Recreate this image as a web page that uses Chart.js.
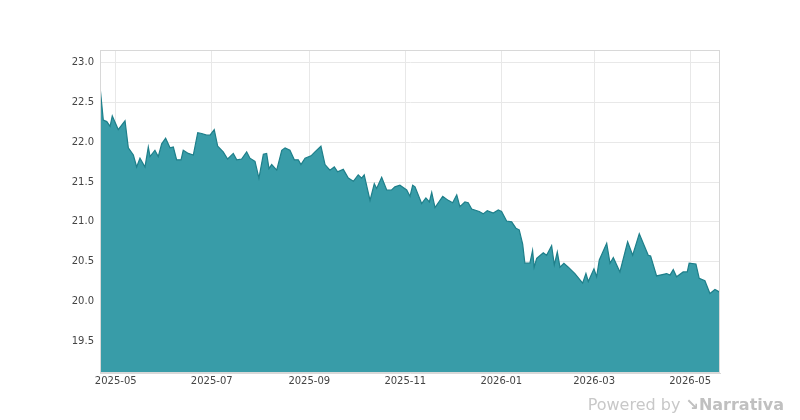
<!DOCTYPE html>
<html>
<head>
<meta charset="utf-8">
<script src="https://cdn.jsdelivr.net/npm/chart.js@4/dist/chart.umd.min.js"></script>
<style>
  html, body { margin: 0; padding: 0; background: #fff; }
  #wrap { position: relative; width: 800px; height: 420px; }
  #brand { position: absolute; right: 16px; bottom: 6px; font: 16px "DejaVu Sans", sans-serif; color: #c8c8c8; }
  #brand b { font-weight: bold; color: #c0c0c0; }
</style>
</head>
<body>
<div id="wrap">
  <canvas id="chart" width="800" height="420"></canvas>
  <div id="brand">Powered by <b>&#x2198;Narrativa</b></div>
</div>
<script>
// days since 2025-04-21
const days = [0,2.1,4.3,6.4,7.8,11.6,15.9,18.0,21.2,23.3,25.4,28.6,30.7,31.8,34.9,37.0,39.2,41.7,44.5,46.6,48.7,51.5,52.9,56.1,59.3,62.1,64.6,67.8,69.9,72.6,74.8,78.3,81.1,84.7,86.9,90.0,93.2,95.3,98.5,101.0,103.8,105.9,107.4,109.1,112.3,115.5,117.6,120.7,123.5,126.0,127.7,130.3,134.1,136.6,140.4,143.0,146.1,148.9,151.0,154.6,157.8,161.0,164.1,166.3,167.9,171.6,174.3,175.8,179.0,182.2,185.3,187.4,190.6,194.9,197.0,198.7,200.2,204.4,207.1,209.3,210.8,212.9,217.8,221.3,224.1,226.7,228.7,231.9,234.0,236.2,241.0,243.5,246.1,249.9,253.1,255.2,258.4,261.6,264.3,266.4,268.6,270.0,273.2,274.9,275.9,277.5,281.7,283.8,287.0,288.7,290.6,292.3,294.8,297.6,301.8,306.7,308.8,310.3,313.9,315.6,317.3,322.0,324.1,326.2,330.4,335.3,338.5,342.7,348.4,349.9,353.7,360.1,362.2,364.3,366.4,370.6,373.2,374.4,378.7,380.8,384.4,387.6,390.8,393.5];
const values = [22.70,22.28,22.26,22.20,22.33,22.16,22.27,21.93,21.84,21.69,21.80,21.69,21.94,21.82,21.90,21.82,21.98,22.05,21.93,21.94,21.78,21.78,21.90,21.86,21.84,22.12,22.11,22.09,22.09,22.16,21.95,21.88,21.79,21.86,21.78,21.79,21.88,21.80,21.76,21.55,21.85,21.86,21.67,21.72,21.65,21.90,21.93,21.90,21.78,21.78,21.72,21.80,21.83,21.88,21.95,21.72,21.65,21.69,21.63,21.66,21.55,21.51,21.59,21.55,21.59,21.27,21.48,21.42,21.56,21.40,21.40,21.44,21.46,21.40,21.32,21.46,21.44,21.23,21.30,21.25,21.37,21.18,21.32,21.27,21.24,21.34,21.19,21.25,21.24,21.16,21.13,21.10,21.14,21.11,21.15,21.13,21.01,21.00,20.92,20.90,20.72,20.48,20.48,20.64,20.43,20.54,20.61,20.58,20.70,20.46,20.62,20.43,20.48,20.43,20.35,20.23,20.35,20.25,20.41,20.31,20.52,20.73,20.48,20.55,20.37,20.75,20.58,20.85,20.58,20.57,20.32,20.35,20.33,20.40,20.31,20.37,20.37,20.48,20.47,20.29,20.26,20.10,20.15,20.12];
const monthTicks = [10, 71, 133, 194, 255, 314, 375];
const monthLabels = ["2025-05", "2025-07", "2025-09", "2025-11", "2026-01", "2026-03", "2026-05"];
const yTicks = [19.5, 20.0, 20.5, 21.0, 21.5, 22.0, 22.5, 23.0];

const points = days.map((d, i) => ({ x: d, y: values[i] }));

new Chart(document.getElementById("chart"), {
  type: "line",
  data: {
    datasets: [{
      data: points,
      borderColor: "#1e7f8a",
      backgroundColor: "#389ca8",
      borderWidth: 1.2,
      pointRadius: 0,
      fill: "start",
      tension: 0
    }]
  },
  options: {
    responsive: false,
    animation: false,
    layout: { padding: { top: 50, right: 80, left: 0, bottom: 0 } },
    plugins: { legend: { display: false }, tooltip: { enabled: false } },
    scales: {
      x: {
        type: "linear",
        min: 0,
        max: 394,
        afterBuildTicks: (axis) => { axis.ticks = monthTicks.map(v => ({ value: v })); },
        afterFit: (axis) => { axis.height = 47; },
        ticks: {
          callback: (v) => monthLabels[monthTicks.indexOf(v)],
          color: "#444",
          font: { family: "DejaVu Sans", size: 10 },
          maxRotation: 0,
          padding: 2
        },
        grid: { color: "#e8e8e8", drawTicks: false },
        border: { color: "#d8d8d8" }
      },
      y: {
        min: 19.1,
        max: 23.16,
        afterBuildTicks: (axis) => { axis.ticks = yTicks.map(v => ({ value: v })); },
        afterFit: (axis) => { axis.width = 100; },
        ticks: {
          callback: (v) => v.toFixed(1),
          color: "#444",
          font: { family: "DejaVu Sans", size: 10 },
          padding: 6
        },
        grid: { color: "#e8e8e8", drawTicks: false },
        border: { color: "#d8d8d8" }
      }
    }
  },
  plugins: [{
    id: "frame",
    afterDraw(chart) {
      const { ctx, chartArea: a } = chart;
      ctx.save();
      ctx.strokeStyle = "#d8d8d8";
      ctx.lineWidth = 1;
      ctx.strokeRect(a.left + 0.5, a.top + 0.5, a.right - a.left - 1, a.bottom - a.top - 1);
      ctx.restore();
    }
  }]
});
</script>
</body>
</html>
